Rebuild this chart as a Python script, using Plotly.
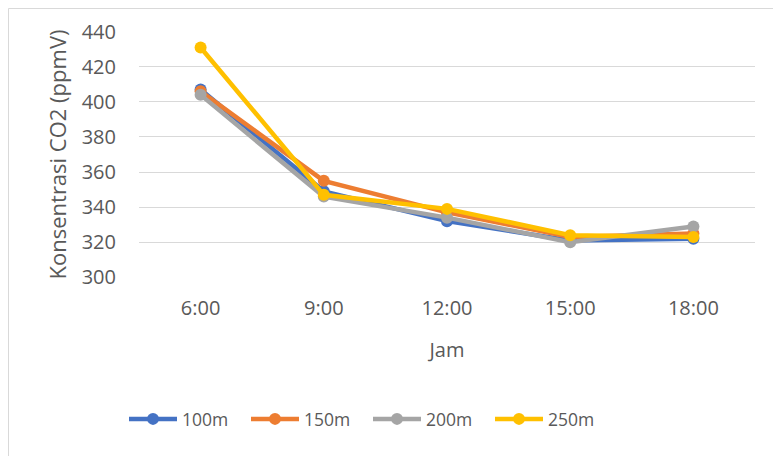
import plotly.graph_objects as go

categories = ["6:00", "9:00", "12:00", "15:00", "18:00"]
series_names = ["100m", "150m", "200m", "250m"]
v100 = [407, 349, 332, 321, 322]
v150 = [406, 355, 337, 323, 325]
v200 = [404, 346, 334, 320, 329]
v250 = [431, 347, 339, 324, 323]
colors = ["#4472C4", "#ED7D31", "#A5A5A5", "#FFC000"]
y_ticks = [300, 320, 340, 360, 380, 400, 420, 440]

FONT = "Open Sans"
W, H = 773, 448  # page body has an 8px offset
fig = go.Figure()
for name, vals, col in zip(series_names, [v100, v150, v200, v250], colors):
    fig.add_trace(go.Scatter(
        x=categories, y=vals, name=name, mode="lines+markers",
        line=dict(color=col, width=4.5),
        marker=dict(color=col, size=12),
    ))

fig.update_layout(
    width=W, height=H,
    margin=dict(l=131, r=26, t=23, b=178, autoexpand=False),
    paper_bgcolor="white", plot_bgcolor="white",
    font=dict(family=FONT, color="#595959", size=18),
    showlegend=True,
    legend=dict(orientation="h", xref="container", x=116 / W, xanchor="left",
                yref="container", y=1 - 411 / H, yanchor="middle",
                font=dict(size=17.5, color="#595959"), itemwidth=48, entrywidth=59,
                entrywidthmode="pixels", traceorder="normal"),
    xaxis=dict(type="category", range=[-0.5, 4.5], showgrid=False, showline=False,
               zeroline=False, ticks="", ticklabelstandoff=16, automargin=False,
               tickfont=dict(size=20, color="#595959"),
               title=dict(text="Jam", font=dict(size=20, color="#595959"), standoff=22)),
    yaxis=dict(range=[299.6, 440.4], tickvals=y_ticks, showgrid=True, gridcolor="#D9D9D9",
               gridwidth=1.3, zeroline=False, showline=False, ticks="", ticklabelstandoff=22,
               automargin=False,
               tickfont=dict(size=20, color="#595959"),
               title=dict(text="Konsentrasi CO2 (ppmV)", font=dict(size=22, color="#595959"), standoff=8)),
    shapes=[dict(type="rect", xref="paper", yref="paper",
                 x0=-130.5 / 616, x1=1.2, y0=-1.0, y1=1 + 22.5 / 247,
                 line=dict(color="#D9D9D9", width=1), fillcolor="rgba(0,0,0,0)", layer="below")],
)

fig.write_html("out.html")
